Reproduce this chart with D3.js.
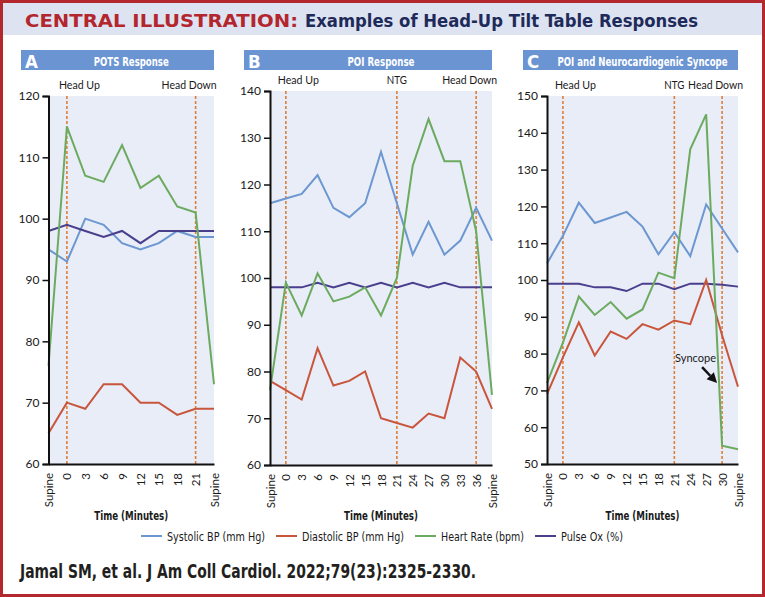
<!DOCTYPE html>
<html><head><meta charset="utf-8">
<script src="https://cdn.jsdelivr.net/npm/d3@7"></script>
<style>
html,body{margin:0;padding:0;background:#fff;}
svg{display:block;}
</style></head><body>
<svg id="chart" width="765" height="597"></svg>
<script>
// ---------- DATA ----------
const seriesNames = ["Systolic BP (mm Hg)", "Diastolic BP (mm Hg)", "Heart Rate (bpm)", "Pulse Ox (%)"];

// Panel A: POTS Response
const aTimes = ["Supine","0","3","6","9","12","15","18","21","Supine"];
const aSystolic  = [95, 93, 100, 99, 96, 95, 96, 98, 97, 97];
const aDiastolic = [65, 70, 69, 73, 73, 70, 70, 68, 69, 69];
const aHeartRate = [76, 115, 107, 106, 112, 105, 107, 102, 101, 73];
const aPulseOx   = [98, 99, 98, 97, 98, 96, 98, 98, 98, 98];
const aTicks = [60, 70, 80, 90, 100, 110, 120];
const aEvents = [["Head Up", 1, "start"], ["Head Down", 8, "end"]];

// Panel B: POI Response
const bTimes = ["Supine","0","3","6","9","12","15","18","21","24","27","30","33","36","Supine"];
const bSystolic  = [116, 117, 118, 122, 115, 113, 116, 127, 116, 105, 112, 105, 108, 115, 108];
const bDiastolic = [78, 76, 74, 85, 77, 78, 80, 70, 69, 68, 71, 70, 83, 80, 72];
const bHeartRate = [76, 99, 92, 101, 95, 96, 98, 92, 100, 124, 134, 125, 125, 110, 75];
const bPulseOx   = [98, 98, 98, 99, 98, 99, 98, 99, 98, 99, 98, 99, 98, 98, 98];
const bTicks = [60, 70, 80, 90, 100, 110, 120, 130, 140];
const bEvents = [["Head Up", 1, "start"], ["NTG", 8, "middle"], ["Head Down", 13, "end"]];

// Panel C: POI and Neurocardiogenic Syncope
const cTimes = ["Supine","0","3","6","9","12","15","18","21","24","27","30","Supine"];
const cSystolic  = [104.5, 112, 121, 115.5, 117, 118.5, 114.5, 107, 113, 106.5, 120.5, 114, 107.5];
const cDiastolic = [69, 79, 88.5, 79.5, 86, 84, 88, 86.5, 89, 88, 100, 85, 71];
const cHeartRate = [72, 83, 95.5, 90.5, 94, 89.5, 92, 102, 100.5, 135.5, 145, 55, 54];
const cPulseOx   = [99, 99, 99, 98, 98, 97, 99, 99, 97.5, 99, 99, 98.7, 98.2];
const cTicks = [50, 60, 70, 80, 90, 100, 110, 120, 130, 140, 150];
const cEvents = [["Head Up", 1, "start"], ["NTG", 8, "middle"], ["Head Down", 11, "end"]];
const cSyncope = {label: "Syncope", seriesIndex: 2, from: 10, value: 72};

// ---------- STYLE / LAYOUT ----------
const colors = ["#6d97d1", "#c8553c", "#6cab5f", "#4a3f8d"];
const eventColor = "#e07e36";
const plotBg = "#e8edf7";
const boxFill = "#6b94d3";
const condensed = "'Liberation Sans Narrow','DejaVu Sans Condensed','Arial Narrow',sans-serif";
const smallFont = "Lato, 'Open Sans', sans-serif";
const eventLabelW = {"Head Up": 41, "Head Down": 55, "NTG": 20};

const panels = [
  {letter: "A", title: "POTS Response", titleW: 75, times: aTimes, series: [aSystolic, aDiastolic, aHeartRate, aPulseOx],
   ticks: aTicks, events: aEvents, boxX0: 21, x0: 48.5, x1: 214, yTop: 96, yBottom: 464},
  {letter: "B", title: "POI Response", titleW: 67, times: bTimes, series: [bSystolic, bDiastolic, bHeartRate, bPulseOx],
   ticks: bTicks, events: bEvents, boxX0: 244, x0: 270, x1: 492, yTop: 91, yBottom: 465},
  {letter: "C", title: "POI and Neurocardiogenic Syncope", titleW: 170, times: cTimes, series: [cSystolic, cDiastolic, cHeartRate, cPulseOx],
   ticks: cTicks, events: cEvents, boxX0: 523, x0: 547, x1: 738, yTop: 96, yBottom: 464, syncope: cSyncope}
];

const svg = d3.select("#chart");

// page frame and header band
svg.append("rect").attr("x", 0).attr("y", 0).attr("width", 765).attr("height", 597).attr("fill", "#fff");
svg.append("rect").attr("x", 3).attr("y", 3).attr("width", 759).attr("height", 32).attr("fill", "#dde3f0");
svg.append("rect").attr("x", 1.5).attr("y", 1.5).attr("width", 762).attr("height", 594)
  .attr("fill", "none").attr("stroke", "#b3282e").attr("stroke-width", 3);

svg.append("text").text("CENTRAL ILLUSTRATION:")
  .attr("x", 25).attr("y", 27).attr("fill", "#b3262e")
  .attr("font-family", "'DejaVu Sans', sans-serif").attr("font-weight", "bold").attr("font-size", 18)
  .attr("textLength", 273).attr("lengthAdjust", "spacingAndGlyphs");
svg.append("text").text("Examples of Head-Up Tilt Table Responses")
  .attr("x", 305).attr("y", 27).attr("fill", "#1e2b5a")
  .attr("font-family", "'DejaVu Sans Condensed','Liberation Sans Narrow',sans-serif").attr("font-stretch", "condensed")
  .attr("font-weight", "bold").attr("font-size", 18.5)
  .attr("textLength", 393).attr("lengthAdjust", "spacingAndGlyphs");

panels.forEach(p => {
  const g = svg.append("g");
  const n = p.times.length;
  const x = d3.scalePoint().domain(d3.range(n)).range([p.x0, p.x1]);
  const y = d3.scaleLinear().domain([p.ticks[0], p.ticks[p.ticks.length - 1]]).range([p.yBottom, p.yTop]);
  const cx = (p.x0 + p.x1) / 2;

  // panel header box
  g.append("rect").attr("x", p.boxX0).attr("y", 50).attr("width", p.x1 - p.boxX0).attr("height", 20).attr("fill", boxFill);
  g.append("text").text(p.letter).attr("x", p.boxX0 + 4).attr("y", 67.5)
    .attr("fill", "#fff").attr("font-family", "'DejaVu Sans Condensed','DejaVu Sans',sans-serif").attr("font-stretch", "condensed")
    .attr("font-weight", "bold").attr("font-size", 18.5);
  g.append("text").text(p.title).attr("x", cx).attr("y", 66).attr("text-anchor", "middle")
    .attr("fill", "#fff").attr("font-family", condensed).attr("font-weight", "bold").attr("font-size", 11.5)
    .attr("textLength", p.titleW).attr("lengthAdjust", "spacingAndGlyphs");

  // plot background
  g.append("rect").attr("x", p.x0).attr("y", p.yTop).attr("width", p.x1 - p.x0).attr("height", p.yBottom - p.yTop).attr("fill", plotBg);

  // event markers
  p.events.forEach(([label, idx, anchor]) => {
    const ex = x(idx);
    g.append("line").attr("x1", ex).attr("x2", ex).attr("y1", p.yTop).attr("y2", p.yBottom)
      .attr("stroke", eventColor).attr("stroke-width", 1.6).attr("stroke-dasharray", "3,2");
    const lx = anchor === "start" ? ex - 8 : anchor === "end" ? ex + 21 : ex;
    g.append("text").text(label).attr("x", lx).attr("y", p.yTop - 7).attr("text-anchor", anchor)
      .attr("fill", "#1a1a1a").attr("font-family", smallFont).attr("font-size", 12)
      .attr("textLength", eventLabelW[label]).attr("lengthAdjust", "spacingAndGlyphs");
  });

  // data lines
  const line = d3.line().x((d, i) => x(i)).y(d => y(d));
  [0, 3, 1, 2].forEach(si => {
    g.append("path").datum(p.series[si]).attr("d", line)
      .attr("fill", "none").attr("stroke", colors[si]).attr("stroke-width", 2).attr("stroke-linejoin", "miter");
  });

  // y axis
  const yAxis = d3.axisLeft(y).tickValues(p.ticks).tickSize(6).tickSizeOuter(6).tickFormat(d3.format("d"));
  const ya = g.append("g").attr("transform", `translate(${p.x0},0)`).call(yAxis);
  ya.select(".domain").attr("stroke", "#111").attr("stroke-width", 2);
  ya.selectAll(".tick line").attr("stroke", "#111").attr("stroke-width", 1.5);
  ya.selectAll(".tick text").attr("fill", "#1a1a1a").attr("font-family", smallFont).attr("font-size", 12);

  // x axis
  const xAxis = d3.axisBottom(x).tickSize(0).tickSizeOuter(0).tickFormat(i => p.times[i]);
  const xa = g.append("g").attr("transform", `translate(0,${p.yBottom})`).call(xAxis);
  xa.select(".domain").attr("stroke", "#111").attr("stroke-width", 2);
  xa.selectAll(".tick text").attr("transform", "rotate(-90)").attr("x", -9).attr("y", 0).attr("dy", "0.35em")
    .style("text-anchor", "end").attr("fill", "#1a1a1a").attr("font-family", smallFont).attr("font-size", 11.5);

  // axis title
  g.append("text").text("Time (Minutes)").attr("x", cx).attr("y", 519.5).attr("text-anchor", "middle")
    .attr("fill", "#1a1a1a").attr("font-family", condensed).attr("font-weight", "bold").attr("font-size", 13)
    .attr("textLength", 74).attr("lengthAdjust", "spacingAndGlyphs");

  // syncope annotation
  if (p.syncope) {
    const s = p.syncope;
    const vals = p.series[s.seriesIndex];
    const v0 = vals[s.from], v1 = vals[s.from + 1];
    const t = (v0 - s.value) / (v0 - v1);
    const tipX = x(s.from) + (x(s.from + 1) - x(s.from)) * t - 2;
    const tipY = y(s.value);
    const tailX = tipX - 15, tailY = tipY - 16;
    const ang = Math.atan2(tipY - tailY, tipX - tailX);
    const hl = 10, hw = 5;
    const bx = tipX - hl * Math.cos(ang), by = tipY - hl * Math.sin(ang);
    g.append("line").attr("x1", tailX).attr("y1", tailY).attr("x2", bx).attr("y2", by)
      .attr("stroke", "#111").attr("stroke-width", 2.5);
    g.append("path").attr("d", `M${tipX},${tipY}L${bx - hw * Math.sin(ang)},${by + hw * Math.cos(ang)}L${bx + hw * Math.sin(ang)},${by - hw * Math.cos(ang)}Z`)
      .attr("fill", "#111");
    g.append("text").text(s.label).attr("x", tailX - 27).attr("y", tailY - 5)
      .attr("fill", "#1a1a1a").attr("font-family", smallFont).attr("font-size", 11.5)
      .attr("textLength", 41).attr("lengthAdjust", "spacingAndGlyphs");
  }
});

// legend
const legendW = [98, 102, 83, 62];
let lx = 141;
const legend = svg.append("g").attr("transform", "translate(0,536)");
seriesNames.forEach((name, i) => {
  legend.append("line").attr("x1", lx).attr("x2", lx + 21).attr("y1", 0).attr("y2", 0)
    .attr("stroke", colors[i]).attr("stroke-width", 2);
  legend.append("text").text(name).attr("x", lx + 26).attr("y", 4.5)
    .attr("fill", "#1a1a1a").attr("font-family", condensed).attr("font-size", 13)
    .attr("textLength", legendW[i]).attr("lengthAdjust", "spacingAndGlyphs");
  lx += 26 + legendW[i] + 11;
});

// citation
svg.append("text").text("Jamal SM, et al. J Am Coll Cardiol. 2022;79(23):2325-2330.")
  .attr("x", 20).attr("y", 578).attr("fill", "#231f20")
  .attr("font-family", condensed).attr("font-weight", "bold").attr("font-size", 20)
  .attr("textLength", 456).attr("lengthAdjust", "spacingAndGlyphs");
</script></body></html>
